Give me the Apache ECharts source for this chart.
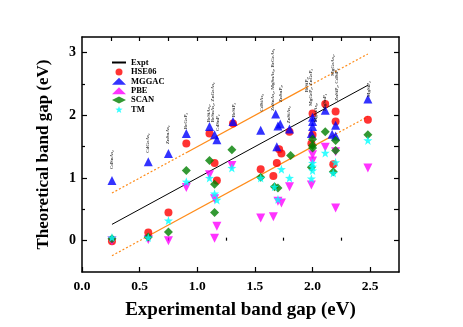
<!DOCTYPE html>
<html><head><meta charset="utf-8">
<script src="https://cdn.jsdelivr.net/npm/echarts@6/dist/echarts.min.js"></script>
<style>html,body{margin:0;padding:0;background:#fff}#c{width:463px;height:327px}</style>
</head><body><div id="c"></div>
<script>
// ---- axis ticks ----
const xTickLabels = [0, 0.5, 1.0, 1.5, 2.0, 2.5];
const xMinorTicks = [0.25, 0.75, 1.25, 1.75, 2.25];
const xTopTicks = [0.25, 0.5, 0.75, 1.0, 1.25, 1.5, 1.75, 2.0, 2.25, 2.5];
const yTickLabels = [0, 1, 2, 3];
const yMinorTicks = [0.5, 1.5, 2.5];
const yRightTicks = [0, 0.5, 1.0, 1.5, 2.0, 2.5, 3.0];

// ---- reference lines (endpoints) ----
const exptLine = [[0.26, 0.26], [2.48, 2.48]];
const upperDotA = [[0.26, 0.76], [0.9, 1.4]];
const upperSolid = [[0.9, 1.4], [1.95, 2.45]];
const upperDotB = [[1.95, 2.45], [2.48, 2.98]];
const lowerDotA = [[0.26, -0.24], [0.55, 0.05]];
const lowerSolid = [[0.55, 0.05], [2.2, 1.7]];
const lowerDotB = [[2.2, 1.7], [2.48, 1.98]];

// ---- data points [experimental, theoretical] ----
const hse06 = [[0.26,-0.01],[0.575,0.13],[0.75,0.45],[0.905,1.55],[1.106,1.71],[1.15,1.24],[1.17,0.96],
  [1.31,1.87],[1.55,1.14],[1.71,1.46],[1.73,1.39],[1.69,1.24],[1.66,1.03],[1.80,1.74],[2.0,2.03],[2.0,1.69],
  [1.99,1.55],[2.11,2.18],[2.2,2.06],[2.2,1.90],[2.18,1.22],[2.48,1.93]];
const mggac = [[0.26,0.96],[0.575,1.26],[0.75,1.39],[0.905,1.71],[1.106,1.82],[1.15,1.69],[1.17,1.61],
  [1.31,1.90],[1.55,1.76],[1.68,2.02],[1.70,1.83],[1.72,1.86],[1.69,1.50],[1.80,1.78],[2.0,1.97],[2.0,1.90],
  [2.0,1.82],[1.99,1.71],[2.11,2.08],[2.17,1.70],[2.2,1.84],[2.2,1.67],[2.48,2.26]];
const pbe = [[0.26,0.0],[0.575,0.02],[0.75,0.0],[0.905,0.85],[1.106,1.05],[1.15,0.67],[1.17,0.23],[1.15,0.04],
  [1.30,1.20],[1.55,0.36],[1.66,0.38],[1.70,0.63],[1.73,0.60],[1.80,0.86],[2.0,1.37],[2.0,1.27],[1.99,0.89],
  [2.11,1.49],[2.2,1.42],[2.2,0.52],[2.48,1.16]];
const scan = [[0.26,0.03],[0.575,0.06],[0.75,0.14],[0.905,1.12],[1.106,1.28],[1.15,0.90],[1.15,0.45],[1.30,1.45],
  [1.55,1.01],[1.81,1.36],[1.67,0.86],[1.70,0.84],[2.0,1.62],[2.0,1.52],[2.0,1.48],[1.99,1.17],[2.11,1.74],
  [2.2,1.60],[2.2,1.44],[2.18,1.10],[2.48,1.69]];
const tm = [[0.26,0.05],[0.575,0.05],[0.75,0.32],[0.905,0.94],[1.106,1.0],[1.15,0.75],[1.17,0.65],[1.30,1.16],
  [1.55,1.0],[1.73,1.14],[1.80,1.0],[1.67,0.86],[1.70,0.66],[2.0,1.24],[2.0,1.18],[2.0,1.12],[1.99,0.99],
  [2.11,1.40],[2.2,1.25],[2.18,1.08],[2.48,1.60]];

// ---- compound annotations ----
const annoLabels = ['CdSnAs₂','CdGeAs₂','ZnSnAs₂','BeGeP₂','BeSiAs₂,','BeSnAs₂, ZnGeAs₂','CdSnP₂','BeSiP₂',
  'CdSiAs₂','ZnSnAs₂, MgSnAs₂, BeGeAs₂','ZnSnP₂,','ZnSiAs₂','BeSiP₂,','MgGeP₂, ZnGeP₂','MgSiAs₂,','MgSnP₂',
  'MgGeAs₂,','ZnSiP₂, CdSiP₂','MgSiP₂'];
const annoX = [0.26,0.575,0.75,0.905,1.10,1.14,1.185,1.32,1.56,1.66,1.73,1.80,1.95,1.99,2.03,2.11,2.18,2.21,2.49];
const annoY = [1.13,1.39,1.53,1.77,1.88,1.88,1.74,1.96,2.05,2.06,2.20,1.86,2.36,2.14,1.88,2.06,2.62,2.22,2.28];

const FONT = "'Liberation Serif','Times New Roman',serif";
const STAR = 'path://M0,-10 L2.35,-3.24 9.51,-3.09 3.8,1.24 5.88,8.09 0,4 -5.88,8.09 -3.8,1.24 -9.51,-3.09 -2.35,-3.24 Z';
const ORANGE = '#FF8C1A';

function baseX(extra) {
  return Object.assign({type:'value', min:0, max:2.75, interval:0.25, splitLine:{show:false},
    axisLine:{show:false}, axisLabel:{show:false}, axisTick:{show:false}}, extra);
}
function baseY(extra) {
  return Object.assign({type:'value', min:-0.5, max:3.25, interval:0.5, splitLine:{show:false},
    axisLine:{show:false}, axisLabel:{show:false}, axisTick:{show:false}}, extra);
}
const lineStyleAxis = {color:'#000', width:1.5};

const annoData = annoLabels.map((n, i) => ({name:n, value:[annoX[i], annoY[i]]}));

function refLine(data, color, type, width) {
  return {type:'line', data:data, xAxisIndex:0, yAxisIndex:0, symbol:'none', silent:true,
    lineStyle:{color:color, type:type, width:width}, z:1};
}

const chart = echarts.init(document.getElementById('c'), null, {renderer:'canvas'});
chart.setOption({
  animation:false,
  backgroundColor:'#fff',
  grid:{left:82, top:37, width:317, height:235, containLabel:false},
  legend:{
    orient:'vertical', left:106, top:53, itemWidth:14, itemHeight:7, itemGap:0.4,
    textStyle:{fontFamily:FONT, fontWeight:'bold', fontSize:8.5, color:'#000'},
    data:[{name:'Expt', itemStyle:{color:'rgba(0,0,0,0)', borderWidth:0}},'HSE06','MGGAC','PBE','SCAN','TM']
  },
  xAxis:[
    baseX({position:'bottom',
      axisLine:{show:true, onZero:false, lineStyle:lineStyleAxis},
      axisTick:{show:true, inside:true, length:5, customValues:xTickLabels, lineStyle:{color:'#000', width:1.2}},
      axisLabel:{show:true, customValues:xTickLabels, formatter:v=>Number(v).toFixed(1), margin:8,
        fontFamily:FONT, fontWeight:'bold', fontSize:13.5, color:'#000'},
      name:'Experimental band gap (eV)', nameLocation:'middle', nameGap:29,
      nameTextStyle:{fontFamily:FONT, fontWeight:'bold', fontSize:19, color:'#000'}}),
    baseX({position:'bottom', axisTick:{show:true, inside:true, length:3, customValues:xMinorTicks, lineStyle:{color:'#000', width:1.2}}}),
    baseX({position:'top', axisLine:{show:true, onZero:false, lineStyle:lineStyleAxis},
      axisTick:{show:true, inside:true, length:4, customValues:xTopTicks, lineStyle:{color:'#000', width:1.2}}})
  ],
  yAxis:[
    baseY({position:'left',
      axisLine:{show:true, onZero:false, lineStyle:lineStyleAxis},
      axisTick:{show:true, inside:true, length:5, customValues:yTickLabels, lineStyle:{color:'#000', width:1.2}},
      axisLabel:{show:true, customValues:yTickLabels, formatter:v=>String(v), margin:6,
        fontFamily:FONT, fontWeight:'bold', fontSize:14, color:'#000'},
      name:'Theoretical band gap (eV)', nameLocation:'middle', nameGap:30, nameRotate:90,
      nameTextStyle:{fontFamily:FONT, fontWeight:'bold', fontSize:17, color:'#000'}}),
    baseY({position:'left', axisTick:{show:true, inside:true, length:3, customValues:yMinorTicks, lineStyle:{color:'#000', width:1.2}}}),
    baseY({position:'right', axisLine:{show:true, onZero:false, lineStyle:lineStyleAxis},
      axisTick:{show:true, inside:true, length:5, customValues:yRightTicks, lineStyle:{color:'#000', width:1.2}}})
  ],
  series:[
    refLine(upperDotA, ORANGE, [2,2], 1.2),
    refLine(upperSolid, ORANGE, 'solid', 1.2),
    refLine(upperDotB, ORANGE, [2,2], 1.2),
    refLine(lowerDotA, ORANGE, [2,2], 1.2),
    refLine(lowerSolid, ORANGE, 'solid', 1.2),
    refLine(lowerDotB, ORANGE, [2,2], 1.2),
    {name:'Expt', type:'line', data:exptLine, symbol:'none', silent:true, lineStyle:{color:'#000', width:1}, itemStyle:{color:'#000'}, z:1},
    {name:'HSE06', type:'scatter', data:hse06, symbol:'circle', symbolSize:8, itemStyle:{color:'#FF0000'}, z:3},
    {name:'MGGAC', type:'scatter', data:mggac, symbol:'triangle', symbolSize:9, itemStyle:{color:'#0000FF'}, z:3},
    {name:'PBE', type:'scatter', data:pbe, symbol:'triangle', symbolRotate:180, symbolSize:9, itemStyle:{color:'#FF00FF'}, z:3},
    {name:'SCAN', type:'scatter', data:scan, symbol:'diamond', symbolSize:9, itemStyle:{color:'#008000'}, z:3},
    {name:'TM', type:'scatter', data:tm, symbol:STAR, symbolSize:9, itemStyle:{color:'#00FFFF'}, z:3},
    {type:'scatter', data:annoData, symbolSize:1, itemStyle:{color:'rgba(0,0,0,0)'}, silent:true, z:4,
      label:{show:true, formatter:'{b}', rotate:90, position:[0,0], align:'left', verticalAlign:'middle',
        fontFamily:FONT, fontWeight:'bold', fontSize:5, color:'#111'},
      labelLayout:{hideOverlap:false}}
  ]
});
</script></body></html>
